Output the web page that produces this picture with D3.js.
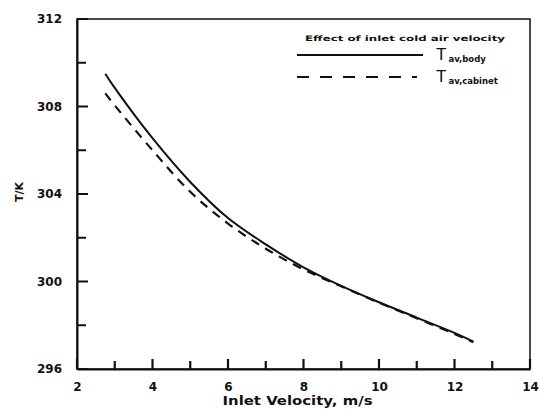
<!DOCTYPE html>
<html>
<head>
<meta charset="utf-8">
<script src="https://cdn.jsdelivr.net/npm/d3@7"></script>
<style>
  body { margin: 0; background: #fff; }
  svg { font-family: "DejaVu Sans", Arial, sans-serif; font-weight: bold; }
</style>
</head>
<body>
<svg width="539" height="409"></svg>
<script>
// data
const velocity = [2.75, 3, 4, 5, 6, 7, 8, 9, 10, 11, 12, 12.5];
const tBody = [309.5, 308.85, 306.55, 304.55, 302.9, 301.7, 300.65, 299.8, 299.05, 298.35, 297.65, 297.25];
const tCabinet = [308.6, 308.05, 306.0, 304.1, 302.65, 301.5, 300.55, 299.78, 299.03, 298.32, 297.6, 297.22];
const xTicks = [2, 4, 6, 8, 10, 12, 14];
const xMinor = [3, 5, 7, 9, 11, 13];
const yTicks = [296, 300, 304, 308, 312];
const yMinor = [298, 302, 306, 310];

const margin = { top: 19, right: 9, bottom: 40, left: 77 };
const width = 539 - margin.left - margin.right;
const height = 409 - margin.top - margin.bottom;

const svg = d3.select("svg")
  .append("g")
  .attr("transform", `translate(${margin.left},${margin.top})`);

const x = d3.scaleLinear().domain([2, 14]).range([0, width]);
const y = d3.scaleLinear().domain([296, 312]).range([height, 0]);

// frame
svg.append("rect")
  .attr("width", width).attr("height", height)
  .attr("fill", "none").attr("stroke", "#111").attr("stroke-width", 1.5);

// axis labels
svg.append("g")
  .attr("transform", `translate(0,${height})`)
  .call(d3.axisBottom(x).tickValues(xTicks).tickSize(0).tickPadding(13).tickFormat(d3.format("d")));
svg.append("g")
  .call(d3.axisLeft(y).tickValues(yTicks).tickSize(0).tickPadding(15).tickFormat(d3.format("d")));

svg.selectAll(".domain").attr("stroke", "#111").attr("stroke-width", 2);
svg.selectAll(".tick text")
  .attr("fill", "#111")
  .style("font-family", "'DejaVu Sans', sans-serif")
  .style("font-size", "12px")
  .style("font-weight", "bold");

// inward tick marks, one path
const tickPath = d3.path();
xTicks.concat(xMinor).forEach(d => {
  tickPath.moveTo(x(d), height);
  tickPath.lineTo(x(d), height - (xTicks.includes(d) ? 10 : 8));
});
yTicks.concat(yMinor).forEach(d => {
  tickPath.moveTo(0, y(d));
  tickPath.lineTo(yTicks.includes(d) ? 11 : 9, y(d));
});
svg.append("path")
  .attr("d", tickPath.toString())
  .attr("fill", "none")
  .attr("stroke", "#111")
  .attr("stroke-width", 2.2);

// axis titles
svg.append("text")
  .attr("x", width / 2 - 6).attr("y", height + 36)
  .attr("text-anchor", "middle")
  .attr("textLength", 150)
  .attr("lengthAdjust", "spacingAndGlyphs")
  .style("font-size", "11.5px")
  .attr("fill", "#111")
  .text("Inlet Velocity, m/s");

svg.append("text")
  .attr("transform", `translate(${-54},${y(304) - 2}) rotate(-90)`)
  .attr("text-anchor", "middle")
  .style("font-size", "11px")
  .attr("fill", "#111")
  .text("T/K");

// curves
const line = d3.line()
  .x((d, i) => x(velocity[i]))
  .y(d => y(d))
  .curve(d3.curveCatmullRom);

svg.append("path")
  .datum(tBody)
  .attr("d", line)
  .attr("fill", "none").attr("stroke", "#111").attr("stroke-width", 2);

svg.append("path")
  .datum(tCabinet)
  .attr("d", line)
  .attr("fill", "none").attr("stroke", "#111").attr("stroke-width", 2.2)
  .attr("stroke-dasharray", "9,7");

// legend
const legend = svg.append("g").attr("transform", "translate(220,0)");
legend.append("text")
  .attr("x", 8).attr("y", 22)
  .attr("textLength", 200)
  .attr("lengthAdjust", "spacingAndGlyphs")
  .style("font-size", "7.5px")
  .attr("fill", "#111")
  .text("Effect of inlet cold air velocity");

const items = [
  { name: "body", dash: null, len: 126, y: 36 },
  { name: "cabinet", dash: "12,11", len: 120, y: 58 }
];
items.forEach(it => {
  legend.append("line")
    .attr("x1", 0).attr("x2", it.len)
    .attr("y1", it.y).attr("y2", it.y)
    .attr("stroke", "#111").attr("stroke-width", 2)
    .attr("stroke-dasharray", it.dash);
  const t = legend.append("text")
    .attr("x", 139).attr("y", it.y + 5)
    .attr("fill", "#111")
    .style("font-family", "'Liberation Sans', Arial, sans-serif")
    .style("font-size", "17px")
    .style("font-weight", "normal");
  t.append("tspan").text("T");
  t.append("tspan")
    .attr("dx", 2).attr("dy", 2)
    .style("font-family", "'DejaVu Sans', sans-serif")
    .style("font-size", "8.5px")
    .style("font-weight", "bold")
    .text("av," + it.name);
});
</script>
</body>
</html>
